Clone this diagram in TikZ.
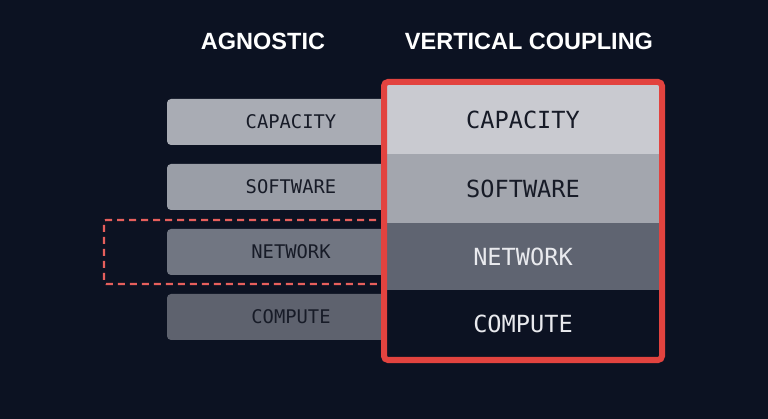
\documentclass[tikz,border=0pt]{standalone}
\usepackage{fontspec}
\setmainfont{Liberation Sans}
\newfontfamily\monofont{DejaVu Sans Mono}
\definecolor{bg}{HTML}{0C1222}
\definecolor{redc}{HTML}{E2433F}
\definecolor{lcap}{HTML}{A9ACB4}
\definecolor{lsoft}{HTML}{9A9EA7}
\definecolor{lnet}{HTML}{717682}
\definecolor{lcomp}{HTML}{5E626E}
\definecolor{rcap}{HTML}{C9CAD0}
\definecolor{rsoft}{HTML}{A3A6AE}
\definecolor{rnet}{HTML}{5F6471}
\definecolor{rcomp}{HTML}{0C1222}
\definecolor{darktxt}{HTML}{171B27}
\definecolor{lighttxt}{HTML}{E9EAEE}
\begin{document}
\begin{tikzpicture}[x=1pt,y=-1pt,
  title/.style={text=white,font=\fontsize{23.5}{26}\selectfont\bfseries},
  leftbox/.style={rounded corners=4pt,minimum width=248pt,minimum height=46pt,inner sep=0pt,
     text=darktxt,font=\monofont\fontsize{18.8}{21}\selectfont},
  layer/.style={minimum width=274pt,inner sep=0pt,
     font=\monofont\fontsize{23.6}{26}\selectfont},
  dashbox/.style={draw=redc!85!white,line width=2.2pt,dash pattern=on 7pt off 5pt,rounded corners=2pt},
  frame/.style={draw=redc,line width=6pt,rounded corners=4pt}]
\fill[bg] (0,0) rectangle (768,419);
\useasboundingbox (0,0) rectangle (768,419);
\node[title] (tA) at (263,41) {AGNOSTIC};
\node[title] (tV) at (529,41) {VERTICAL COUPLING};
% left stack
\node[leftbox,fill=lcap]  (lcap)  at (291,122) {CAPACITY};
\node[leftbox,fill=lsoft] (lsoft) at (291,187) {SOFTWARE};
\node[leftbox,fill=lnet]  (lnet)  at (291,252) {NETWORK};
\node[leftbox,fill=lcomp] (lcomp) at (291,317) {COMPUTE};
% dashed highlight
\draw[dashbox] (400,220) -- (104,220) -- (104,284) -- (400,284);
% right stack
\node[layer,fill=rcap,minimum height=70pt,text=darktxt]  (rcap)  at (523,119.5) {CAPACITY};
\node[layer,fill=rsoft,minimum height=69pt,text=darktxt] (rsoft) at (523,188.5) {SOFTWARE};
\node[layer,fill=rnet,minimum height=68pt,text=lighttxt] (rnet)  at (523,257) {NETWORK};
\node[layer,fill=rcomp,minimum height=67pt,text=lighttxt] (rcomp) at (523,324) {COMPUTE};
\draw[frame] (384,82) rectangle (662,360);
\end{tikzpicture}
\end{document}
